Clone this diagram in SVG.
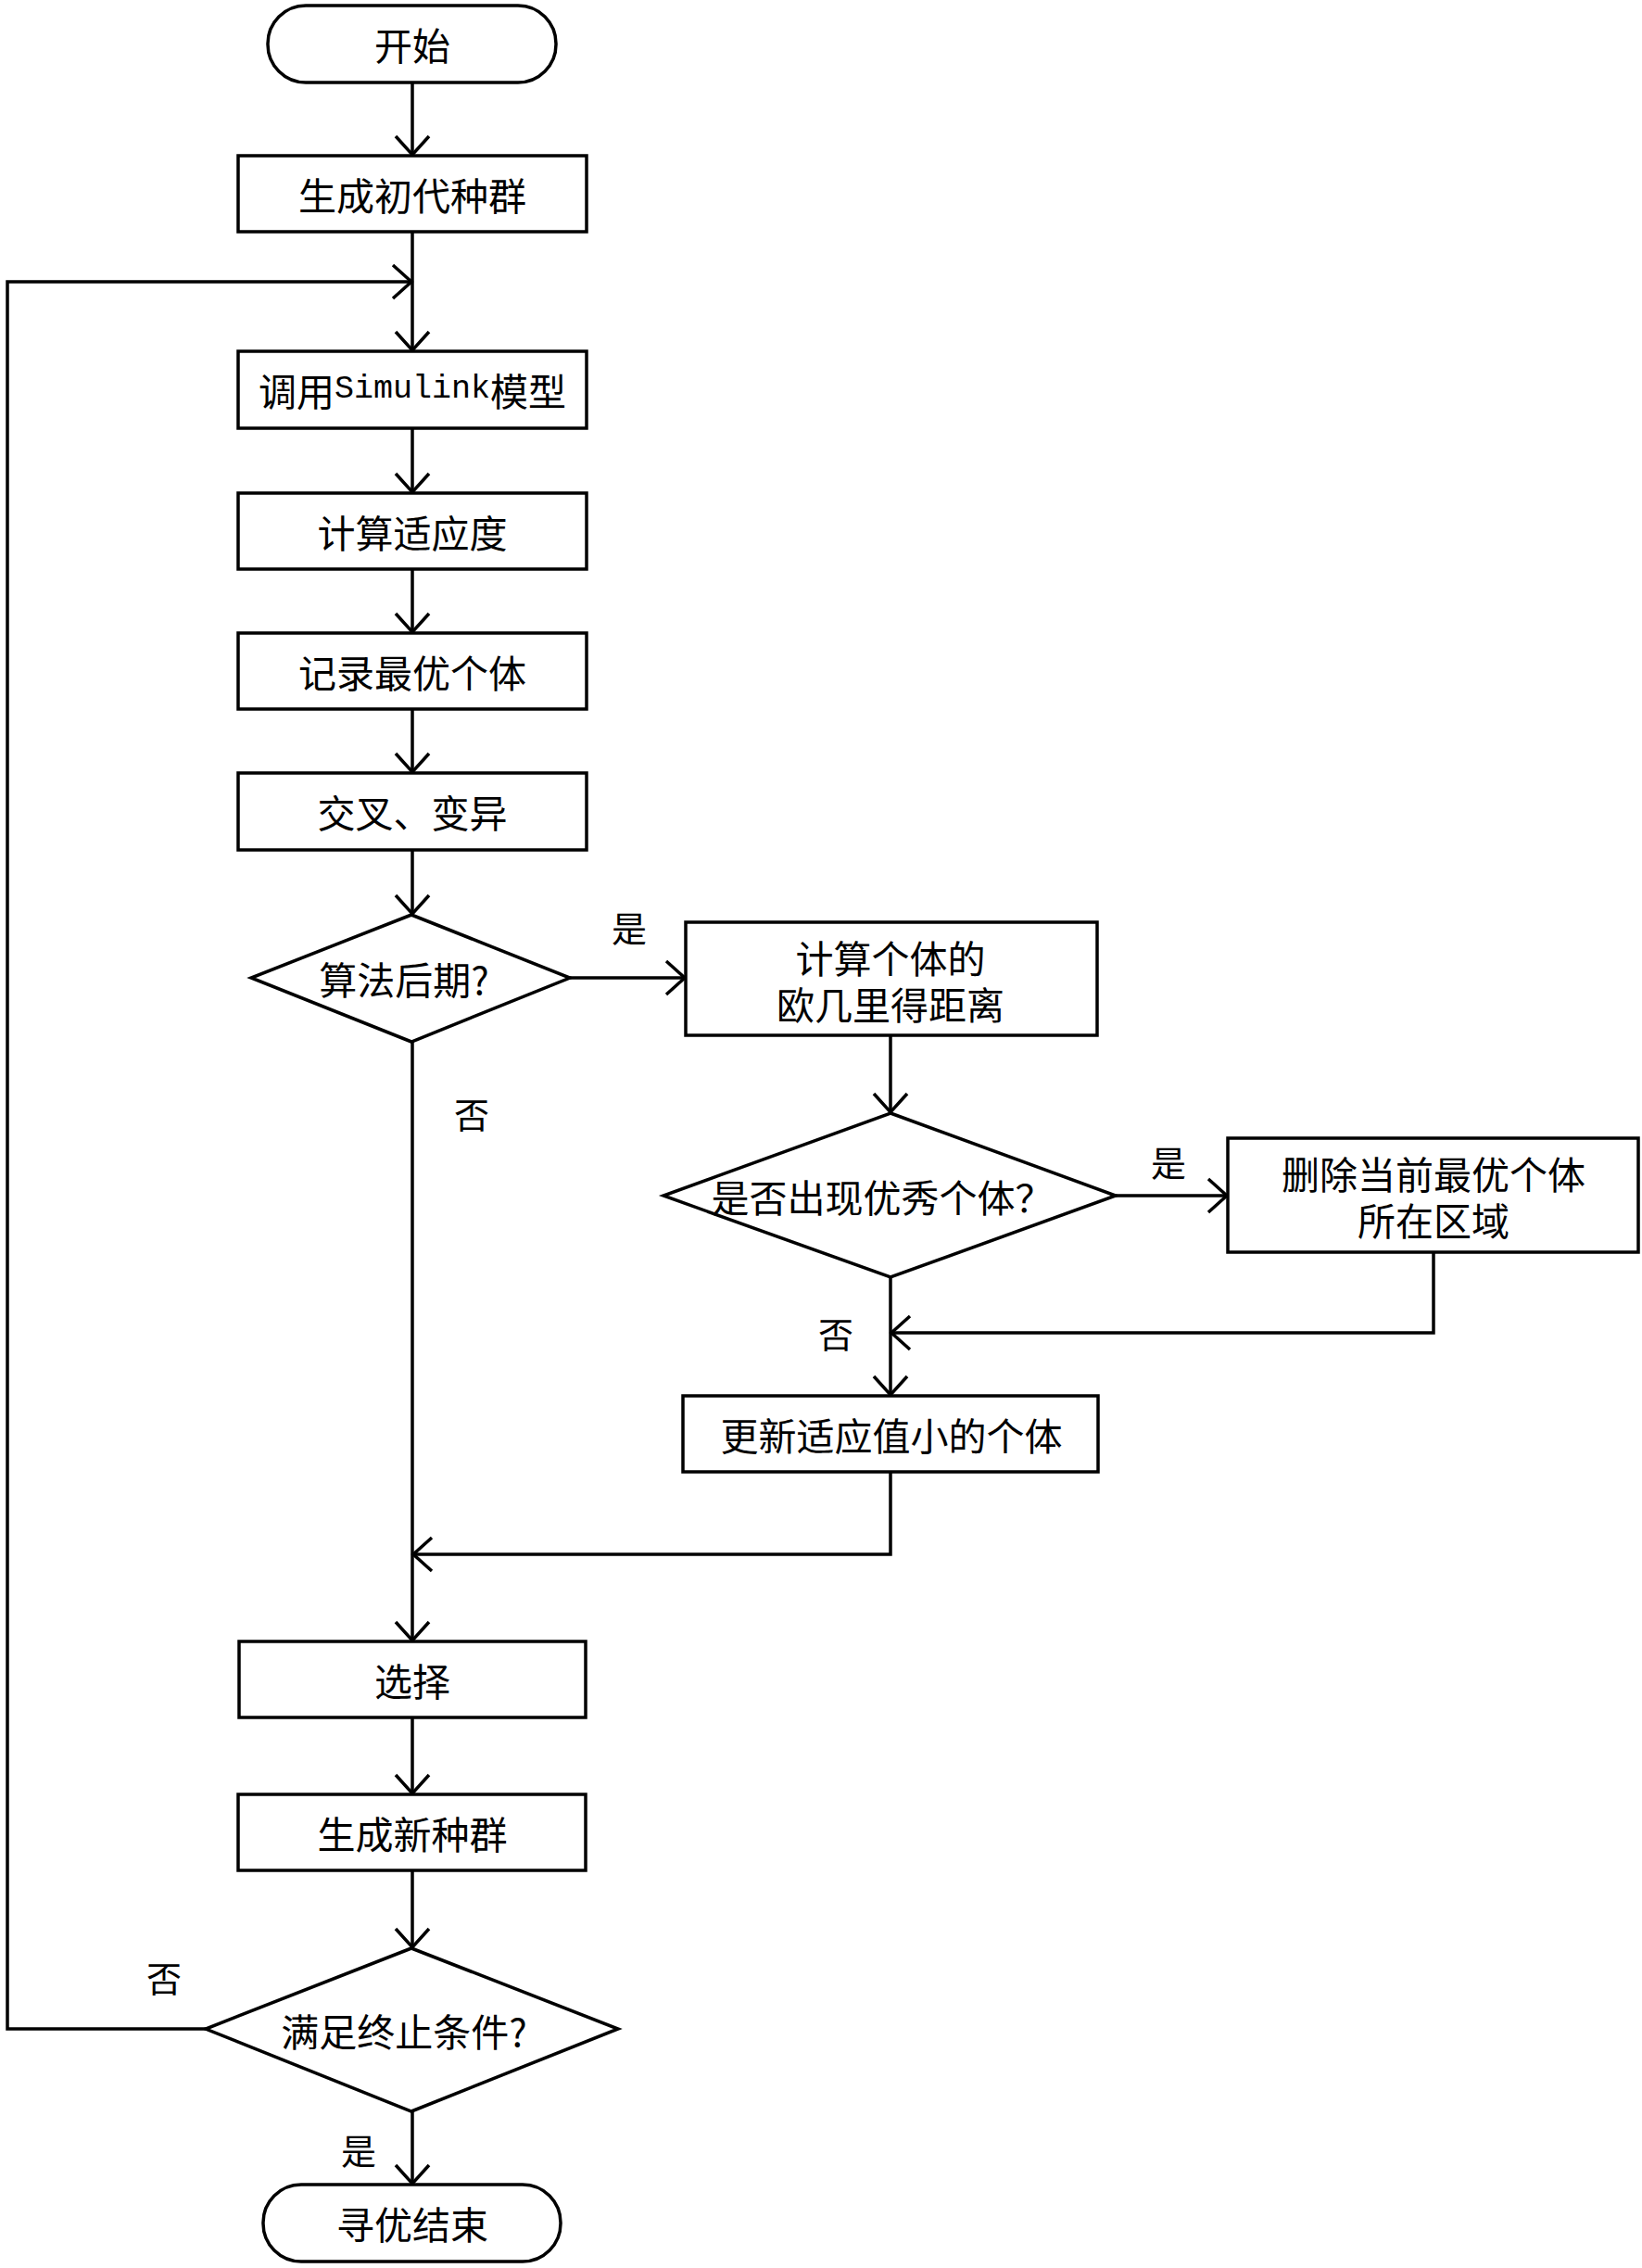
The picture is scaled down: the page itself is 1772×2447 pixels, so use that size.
<svg xmlns="http://www.w3.org/2000/svg" width="1772" height="2447" viewBox="0 0 1772 2447">
<style>
.n{fill:#fff;stroke:#000;stroke-width:3.5}
.t{font-family:"Noto Sans CJK SC","Noto Sans CJK JP",sans-serif;font-size:41px;fill:#000;text-anchor:middle;dominant-baseline:central}
.l{font-family:"Noto Sans CJK SC","Noto Sans CJK JP",sans-serif;font-size:38px;fill:#000;text-anchor:middle;dominant-baseline:central}
.m{font-family:"Liberation Mono",monospace;font-size:35px}
.c{fill:none;stroke:#000;stroke-width:3.5}
</style>
<defs>
<marker id="ah" markerUnits="userSpaceOnUse" markerWidth="44" markerHeight="44" viewBox="-22 -22 44 44" refX="0" refY="0" orient="auto" overflow="visible">
<path d="M-20,-18 L0,0 L-20,18" fill="none" stroke="#000" stroke-width="3.5"/>
</marker>
</defs>
<rect width="1772" height="2447" fill="#fff"/>
<g id="connectors">
<path class="c" d="M445,89 V167" marker-end="url(#ah)"/>
<path class="c" d="M445,250 V378" marker-end="url(#ah)"/>
<path class="c" d="M445,462 V531" marker-end="url(#ah)"/>
<path class="c" d="M445,614 V682" marker-end="url(#ah)"/>
<path class="c" d="M445,765 V833" marker-end="url(#ah)"/>
<path class="c" d="M445,917 V986" marker-end="url(#ah)"/>
<path class="c" d="M615,1055 H739" marker-end="url(#ah)"/>
<path class="c" d="M445,1124 V1770" marker-end="url(#ah)"/>
<path class="c" d="M961,1117 V1200" marker-end="url(#ah)"/>
<path class="c" d="M1204,1290 H1324" marker-end="url(#ah)"/>
<path class="c" d="M1547,1351 V1438 H962" marker-end="url(#ah)"/>
<path class="c" d="M961,1378 V1505" marker-end="url(#ah)"/>
<path class="c" d="M961,1588 V1677 H446" marker-end="url(#ah)"/>
<path class="c" d="M445,1853 V1935" marker-end="url(#ah)"/>
<path class="c" d="M445,2018 V2101" marker-end="url(#ah)"/>
<path class="c" d="M445,2278 V2356" marker-end="url(#ah)"/>
<path class="c" d="M222,2189 H8 V304 H444" marker-end="url(#ah)"/>
<text class="l" x="679" y="999">是</text>
<text class="l" x="509" y="1200">否</text>
<text class="l" x="1261" y="1252">是</text>
<text class="l" x="902" y="1437">否</text>
<text class="l" x="387" y="2318">是</text>
<text class="l" x="177" y="2132">否</text>
</g>
<g id="start"><rect class="n" x="289" y="6" width="311" height="83" rx="41" ry="41"/><text class="t" x="445" y="47">开始</text></g>
<g id="init"><rect class="n" x="257" y="168" width="376" height="82"/><text class="t" x="445" y="209">生成初代种群</text></g>
<g id="simulink"><rect class="n" x="257" y="379" width="376" height="83"/><text class="t" x="445" y="420">调用<tspan class="m">Simulink</tspan>模型</text></g>
<g id="fitness"><rect class="n" x="257" y="532" width="376" height="82"/><text class="t" x="445" y="573">计算适应度</text></g>
<g id="record"><rect class="n" x="257" y="683" width="376" height="82"/><text class="t" x="445" y="724">记录最优个体</text></g>
<g id="crossover"><rect class="n" x="257" y="834" width="376" height="83"/><text class="t" x="445" y="875">交叉、变异</text></g>
<g id="late"><path class="n" d="M444,987 L615,1055 L444,1124 L271,1055 Z"/><text class="t" x="436" y="1055">算法后期?</text></g>
<g id="euclid"><rect class="n" x="740" y="995" width="444" height="122"/><text class="t" x="961" y="1032">计算个体的</text><text class="t" x="961" y="1082">欧几里得距离</text></g>
<g id="excellent"><path class="n" d="M961,1201 L1204,1290 L961,1378 L716,1290 Z"/><text class="t" x="952" y="1290">是否出现优秀个体？</text></g>
<g id="delete"><rect class="n" x="1325" y="1228" width="443" height="123"/><text class="t" x="1547" y="1265">删除当前最优个体</text><text class="t" x="1547" y="1315">所在区域</text></g>
<g id="update"><rect class="n" x="737" y="1506" width="448" height="82"/><text class="t" x="962" y="1547">更新适应值小的个体</text></g>
<g id="select"><rect class="n" x="258" y="1771" width="374" height="82"/><text class="t" x="445" y="1812">选择</text></g>
<g id="newpop"><rect class="n" x="257" y="1936" width="375" height="82"/><text class="t" x="445" y="1977">生成新种群</text></g>
<g id="stop"><path class="n" d="M444,2102 L667,2189 L444,2278 L222,2189 Z"/><text class="t" x="436" y="2190">满足终止条件?</text></g>
<g id="end"><rect class="n" x="284" y="2357" width="321" height="83" rx="41" ry="41"/><text class="t" x="445" y="2398">寻优结束</text></g>
</svg>
